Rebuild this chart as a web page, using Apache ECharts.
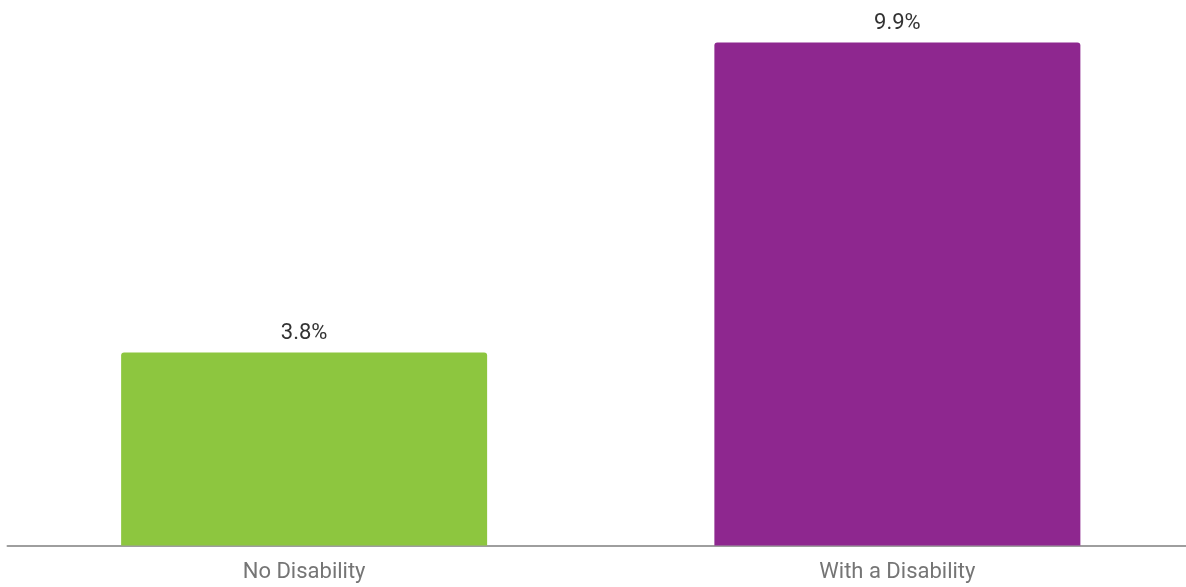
<!DOCTYPE html>
<html><head><meta charset="utf-8">
<script src="https://cdn.jsdelivr.net/npm/echarts@6/dist/echarts.min.js"></script>
<style>html,body{margin:0;padding:0;background:#fff;overflow:hidden}#c{width:1194px;height:587px}</style>
</head><body><div id="c"></div>
<script>
const categories = ["No Disability", "With a Disability"];
const values = [3.8, 9.9];
const colors = ["#8dc63f", "#8e278f"];

const chart = echarts.init(document.getElementById('c'), null, {renderer: 'canvas'});
chart.setOption({
  animation: false,
  grid: {left: 7.5, right: 0, top: 37.5, bottom: 41.5},
  xAxis: {
    type: 'category', data: categories,
    axisLine: {lineStyle: {color: '#9e9e9e', width: 2}},
    axisTick: {show: false},
    axisLabel: {color: '#757575', fontSize: 22, fontFamily: 'Roboto', margin: 16}
  },
  yAxis: {type: 'value', min: 0, max: 10, show: false, splitLine: {show: false}},
  series: [{
    type: 'bar', barWidth: 366,
    data: values.map((v, i) => ({value: v, itemStyle: {color: colors[i]}})),
    itemStyle: {borderRadius: [3, 3, 0, 0]},
    label: {show: true, position: 'top', distance: 8, color: '#333', fontSize: 22,
      fontFamily: 'Roboto', formatter: p => p.value.toFixed(1) + '%'}
  }]
});
</script></body></html>
